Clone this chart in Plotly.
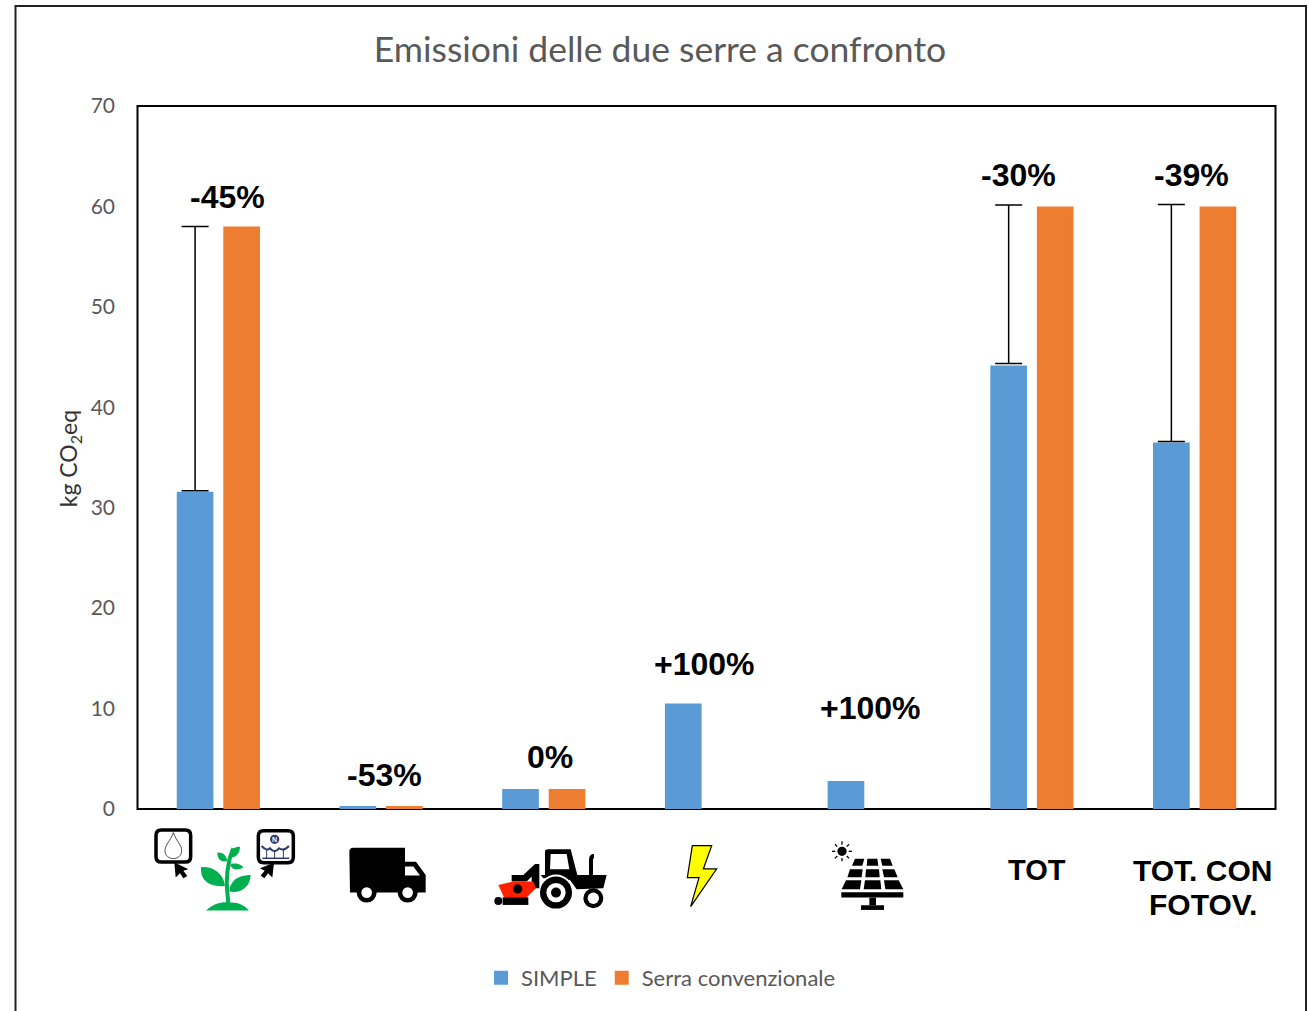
import re, math
import plotly.graph_objects as go

W, H = 1309, 1011
L, R, T, B = 137, 1276, 105.5, 809

categories = ["Fertirrigazione", "Trasporti", "Macchine agricole", "Elettricità", "Fotovoltaico", "TOT", "TOT. CON FOTOV."]
simple_values = [31.5, 0.2, 1.9, 10.4, 2.7, 44.05, 36.4]
serra_values = [57.9, 0.2, 1.9, None, None, 59.9, 59.9]
bracket_categories = ["Fertirrigazione", "TOT", "TOT. CON FOTOV."]
bracket_low = [31.7, 44.35, 36.6]
bracket_high = [58.0, 60.15, 60.2]
pct_labels = ["-45%", "-53%", "0%", "+100%", "+100%", "-30%", "-39%"]
y_ticks = [0, 10, 20, 30, 40, 50, 60, 70]

BLUE, ORANGE, GREY = "#5B9BD5", "#ED7D31", "#595959"
GREEN, NAVY = "#00B050", "#2F3A6D"

def X(p): return (p - L) / (R - L)
def Y(p): return (B - p) / (B - T)

shapes = []

def path(d, ox, oy, fill=None, line=None, lw=0):
    toks = re.findall(r"[MLCQZ]|-?\d+\.?\d*", d)
    parts, i = [], 0
    for t in toks:
        if t in "MLCQZ":
            parts.append(t)
        else:
            v = float(t)
            parts.append(("%.5f" % X(ox + v / 3)) if i % 2 == 0 else ("%.5f" % Y(oy + v / 3)))
            i += 1
    shapes.append(dict(type="path", xref="paper", yref="paper", path=" ".join(parts),
                       fillcolor=fill if fill else "rgba(0,0,0,0)",
                       line=dict(color=line if line else "rgba(0,0,0,0)", width=lw)))

def circ(cx, cy, r, ox, oy, fill):
    shapes.append(dict(type="circle", xref="paper", yref="paper",
                       x0=X(ox + (cx - r) / 3), x1=X(ox + (cx + r) / 3),
                       y0=Y(oy + (cy + r) / 3), y1=Y(oy + (cy - r) / 3),
                       fillcolor=fill, line=dict(width=0)))

def rrect(x0, y0, x1, y1, r):
    return (f"M {x0+r} {y0} L {x1-r} {y0} Q {x1} {y0} {x1} {y0+r} L {x1} {y1-r} Q {x1} {y1} {x1-r} {y1} "
            f"L {x0+r} {y1} Q {x0} {y1} {x0} {y1-r} L {x0} {y0+r} Q {x0} {y0} {x0+r} {y0} Z")

# outer frame
shapes.append(dict(type="rect", xref="paper", yref="paper", layer="below",
                   x0=X(15.5), x1=X(1306), y0=Y(1030), y1=Y(5.5),
                   fillcolor="white", line=dict(color="#222222", width=2)))
# plot frame
shapes.append(dict(type="rect", xref="paper", yref="paper", layer="below",
                   x0=X(137.5), x1=X(1275.5), y0=Y(809), y1=Y(105.5),
                   fillcolor="rgba(0,0,0,0)", line=dict(color="black", width=2)))

# icons, coordinates in 3x crop space
A, AY = 130, 780
path(rrect(78, 150, 182, 246, 16), A, AY, "white", "black", 3.5)
path("M 130 158 C 120 185 105 195 105 212 C 105 228 118 236 130 236 C 142 236 155 228 155 212 C 155 195 140 185 130 158 Z", A, AY, "white", "#222222", 0.8)
path("M 133 247 L 137 293 L 150 280 L 160 295 L 172 288 L 160 272 L 175 268 Z", A, AY, "black")
path(rrect(385, 152, 490, 248, 16), A, AY, "white", "black", 3.5)
circ(434, 178, 14, A, AY, NAVY)
path("M 395 198 Q 410 215 420 205 Q 434 222 447 205 Q 460 215 477 198", A, AY, None, NAVY, 2)
for vx in (410, 434, 460):
    path(f"M {vx} 210 L {vx} 235", A, AY, None, NAVY, 1)
path("M 397 235 L 478 235", A, AY, None, NAVY, 1.5)
path("M 432 248 L 427 293 L 414 280 L 403 295 L 392 287 L 404 272 L 390 265 Z", A, AY, "black")
# plant
path("M 295 372 C 292 330 285 300 298 240 C 302 225 305 215 310 205", A, AY, None, GREEN, 4)
path("M 228 392 C 250 370 280 365 296 368 C 320 365 345 375 357 392 Z", A, AY, GREEN)
path("M 213 262 C 240 258 280 275 285 318 C 250 322 210 310 213 262 Z", A, AY, GREEN)
path("M 362 285 C 335 285 300 295 298 335 C 335 342 360 320 362 285 Z", A, AY, GREEN)
path("M 262 218 C 275 215 290 225 292 243 C 275 248 262 238 262 218 Z", A, AY, GREEN)
path("M 300 255 C 315 245 335 255 340 262 C 325 272 308 272 300 255 Z", A, AY, GREEN)
path("M 303 212 C 312 200 325 200 330 200 C 330 220 318 232 303 232 Z", A, AY, GREEN)
# truck
path("M 658 215 Q 658 203 670 203 L 825 203 L 825 245 L 858 245 L 887 285 L 887 338 L 660 338 Z", A, AY, "black")
path("M 825 260 L 850 260 L 870 287 L 825 287 Z", A, AY, "white")
for wx in (710, 833):
    circ(wx, 338, 30, A, AY, "black")
    circ(wx, 338, 16, A, AY, "white")
# tractor
path("M 1245 215 Q 1245 208 1255 208 L 1322 208 L 1342 285 L 1245 285 Z", A, AY, "black")
path("M 1262 222 L 1310 222 L 1318 268 L 1260 268 Z", A, AY, "white")
path("M 1232 285 L 1430 285 L 1420 325 L 1340 328 L 1320 300 L 1240 295 Z", A, AY, "black")
path("M 1383 285 L 1383 240 Q 1383 228 1392 228", A, AY, None, "black", 4)
circ(1278, 338, 54, A, AY, "white")
circ(1278, 338, 48, A, AY, "black")
circ(1278, 338, 29, A, AY, "white")
circ(1278, 338, 15, A, AY, "black")
circ(1390, 355, 30, A, AY, "black")
circ(1390, 355, 17, A, AY, "white")
path("M 1145 285 L 1180 285 L 1215 252 L 1228 252 L 1228 325 L 1205 325 L 1205 290 L 1190 305 L 1145 305 Z", A, AY, "black")
path("M 1105 315 L 1150 305 L 1210 305 L 1218 325 L 1190 352 L 1122 352 Z", A, AY, "#FF2000")
circ(1163, 327, 14, A, AY, "black")
path("M 1118 352 L 1195 352 L 1195 375 L 1118 375 Z", A, AY, "black")
circ(1105, 363, 12, A, AY, "black")

C, CY = 630, 780
path("M 187 197 L 245 197 L 220 267 L 260 267 L 182 380 L 207 293 L 172 293 Z", C, CY, "#FFFF00", "black", 1.2)
circ(636, 214, 14, C, CY, "black")
for k in range(8):
    a = k * math.pi / 4
    path(f"M {636+20*math.cos(a):.1f} {214+20*math.sin(a):.1f} L {636+30*math.cos(a):.1f} {214+30*math.sin(a):.1f}", C, CY, None, "black", 1.3)
panels = [
    "675 236 703 236 697 257 666 257", "712 236 742 236 745 257 710 257", "752 236 780 236 788 257 757 257",
    "660 268 698 268 695 292 652 292", "708 268 747 268 749 292 706 292", "757 268 793 268 803 292 762 292",
    "648 301 694 301 690 328 635 328", "705 301 751 301 754 328 701 328", "762 301 806 301 820 328 766 328",
    "634 337 820 337 820 353 634 353", "718 353 738 353 738 376 718 376", "693 376 762 376 762 390 693 390",
]
for p in panels:
    n = p.split()
    path(f"M {n[0]} {n[1]} L {n[2]} {n[3]} L {n[4]} {n[5]} L {n[6]} {n[7]} Z", C, CY, "black")

fig = go.Figure()
fig.add_bar(name="SIMPLE", x=categories, y=simple_values, offsetgroup="a", marker_color=BLUE,
            marker_line=dict(color=BLUE, width=2))
fig.add_bar(name="Serra convenzionale", x=categories, y=serra_values, offsetgroup="b", marker_color=ORANGE,
            marker_line=dict(color=ORANGE, width=2))
# difference brackets: invisible bars in the SIMPLE slot, carrying only their error bars
fig.add_bar(name="bracket", x=bracket_categories, y=bracket_low, offsetgroup="a", showlegend=False,
            marker=dict(color="rgba(0,0,0,0)", line=dict(width=0)),
            error_y=dict(type="data", symmetric=False,
                         array=[h - l for h, l in zip(bracket_high, bracket_low)],
                         arrayminus=[0] * len(bracket_low),
                         color="black", thickness=1.5, width=13.5))

annots = []
label_dx = [9, 3, 6, -2, 1, -13, -3]
label_dy = [31, 31.5, 33, 41, 74, 32, 32]
for c, t, a, b, dx, dy in zip(categories, pct_labels, simple_values, serra_values, label_dx, label_dy):
    annots.append(dict(x=c, y=max(a, b or 0), xref="x", yref="y", text=f"<b>{t}</b>", showarrow=False,
                       xshift=dx, yshift=dy, xanchor="center", yanchor="middle",
                       font=dict(family="Liberation Sans", size=32, color="black")))
annots.append(dict(x="TOT", y=Y(870), xref="x", yref="paper", text="<b>TOT</b>", showarrow=False, xshift=5,
                   xanchor="center", yanchor="middle", font=dict(family="Liberation Sans", size=29, color="black")))
for txt, py in (("TOT. CON", 871), ("FOTOV.", 905)):
    annots.append(dict(x="TOT. CON FOTOV.", y=Y(py), xref="x", yref="paper", text=f"<b>{txt}</b>", showarrow=False,
                       xshift=8, xanchor="center", yanchor="middle",
                       font=dict(family="Liberation Sans", size=30, color="black")))
annots.append(dict(x=X(A + 434 / 3), y=Y(AY + 178 / 3), xref="paper", yref="paper", text="<b>N</b>", showarrow=False,
                   xanchor="center", yanchor="middle",
                   font=dict(family="Liberation Sans", size=7, color="white")))
annots.append(dict(x=X(69), y=Y(459), xref="paper", yref="paper", text="kg CO<sub>2</sub>eq", textangle=-90,
                   showarrow=False, xanchor="center", yanchor="middle",
                   font=dict(family="Lato", size=23, color="#333333")))

fig.update_layout(
    width=W, height=H, autosize=False,
    margin=dict(l=L, r=W - R, t=T, b=H - B, autoexpand=False),
    paper_bgcolor="white", plot_bgcolor="white",
    barmode="group", bargap=0.428, bargroupgap=0.255,
    title=dict(text="Emissioni delle due serre a confronto", x=660 / W, xanchor="center",
               y=1 - 50 / H, yanchor="middle", font=dict(family="Lato", size=35.5, color=GREY)),
    xaxis=dict(showticklabels=False, ticks="", showline=False, showgrid=False, zeroline=False),
    yaxis=dict(range=[0, 70], tickvals=y_ticks, ticks="", showgrid=False, zeroline=False, showline=False,
               ticklabelstandoff=21, tickfont=dict(family="Lato", size=21, color=GREY)),
    legend=dict(orientation="h", x=X(481), xanchor="left", y=Y(978), yanchor="middle",
                font=dict(family="Lato", size=22, color=GREY), bgcolor="rgba(0,0,0,0)", itemwidth=30),
    shapes=shapes, annotations=annots, hovermode=False,
)
fig.write_html("out.html", config=dict(displayModeBar=False),
               post_script="document.body.style.margin='0';")
